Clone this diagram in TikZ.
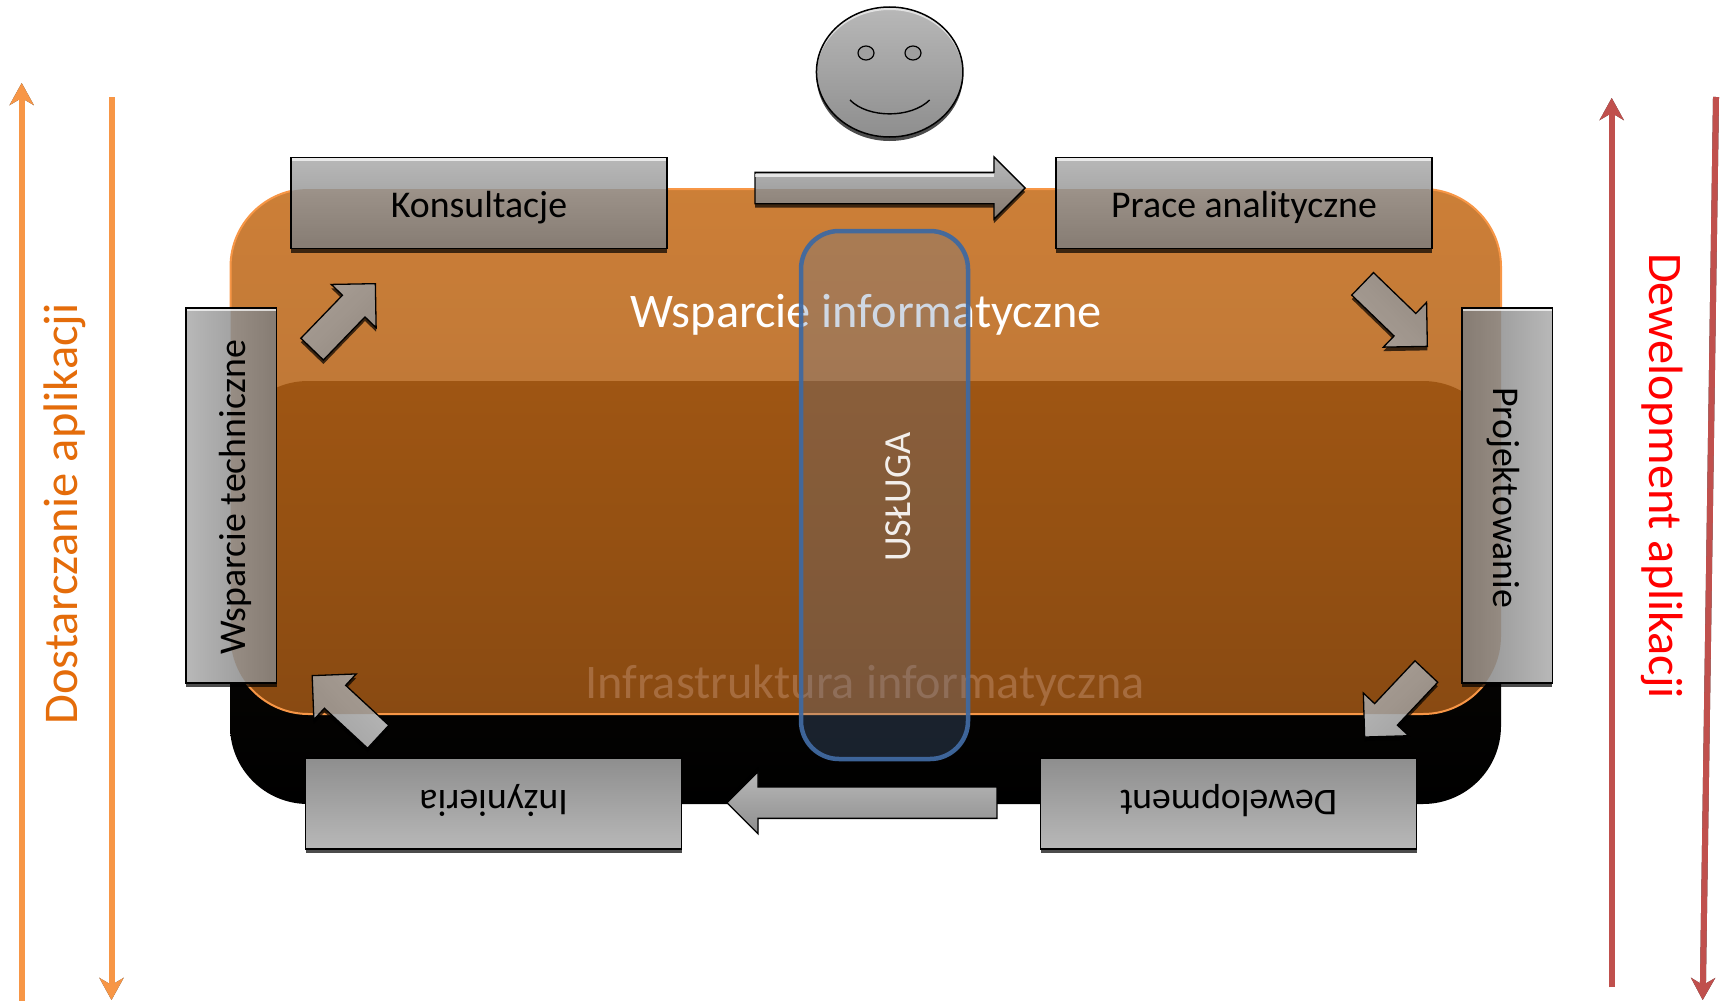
\documentclass[tikz,border=0pt]{standalone}
\usepackage{fontspec}
\usepackage{graphicx}
\setmainfont{Carlito}
\usetikzlibrary{shapes.geometric,shapes.arrows,shadows,arrows.meta}
\definecolor{boxlight}{HTML}{B8B8B8}
\definecolor{boxdark}{HTML}{8E8E8E}
\definecolor{diagdark}{HTML}{A2A2A2}
\definecolor{tintc}{RGB}{104,54,9}
\definecolor{orangeline}{HTML}{F79646}
\definecolor{redline}{HTML}{C0504D}
\definecolor{orangetop}{RGB}{196,106,22}
\definecolor{orangebot}{RGB}{160,86,21}
\definecolor{blacktop}{RGB}{16,12,6}
\definecolor{uslugafill}{RGB}{86,118,160}
\definecolor{uslugaline}{RGB}{64,105,160}
\definecolor{sidetxtL}{HTML}{E46C0A}
\definecolor{infratxt}{HTML}{A66C3E}
\newcommand{\tintrr}{\fill[tintc,fill opacity=.2,rounded corners=78pt] (oa) rectangle (ob);}
\newcommand{\tintpoly}{\fill[tintc,fill opacity=.2] (oa) -- (oc) -- (ob) -- (od) -- cycle;}
\newcommand{\fsz}[1]{\fontsize{#1}{#1}\selectfont}
\newcommand{\boxtxt}[2][14]{\raisebox{-#1pt}[0pt][0pt]{#2}}
\tikzset{
  x=1pt,y=-1pt,
  boxshadow/.style={drop shadow={shadow xshift=0pt,shadow yshift=-4pt,fill=black,opacity=.7}},
  graybox/.style={draw=black,line width=1.5pt,inner sep=0pt,text=black,font=\fsz{37.8},boxshadow,
    path picture={\tintrr}},
  glossbox/.style={graybox,path picture={\tintrr
    \fill[white,opacity=.7] (path picture bounding box.north west) rectangle ([yshift=-3pt]path picture bounding box.north east);}},
  hbox/.style={minimum width=376pt,minimum height=91pt},
  vbox/.style={minimum width=90.5pt,minimum height=375pt},
  blockarrow/.style={shape=single arrow,anchor=tip,single arrow tip angle=90,single arrow head extend=15.5pt,
    minimum width=61pt,inner xsep=0pt,inner ysep=15pt,draw=black,line width=1.3pt,
    rotate=#1,
    path picture={\tintpoly}},
  diagshadow/.style={drop shadow={shadow xshift=0pt,shadow yshift=-4pt,fill=black,opacity=.7}},
  sidearrow/.style={line width=6pt,-{Stealth[length=22pt,width=24pt,inset=7pt]}},
  arrowshadow/.style={color=black!75,shift={(0pt,3pt)}},
}
\begin{document}
\begin{tikzpicture}
\useasboundingbox (0,0) rectangle (1729,1001);
\coordinate (oa) at (230.5,189);
\coordinate (oc) at (1501,189);
\coordinate (ob) at (1501,714);
\coordinate (od) at (230.5,714);
\coordinate (ba) at (230,381);
\coordinate (bb) at (1501,804);

% side arrows
\coordinate (l1a) at (21.7,1001); \coordinate (l1b) at (21.7,83);
\coordinate (l2a) at (111.5,97); \coordinate (l2b) at (111.5,1000);
\coordinate (r1a) at (1611.7,987); \coordinate (r1b) at (1611.7,98);
\coordinate (r2a) at (1716,97); \coordinate (r2b) at (1702.7,1000);
\draw[sidearrow,arrowshadow] (l1a) -- (l1b);
\draw[sidearrow,arrowshadow] (l2a) -- (l2b);
\draw[sidearrow,arrowshadow] (r1a) -- (r1b);
\draw[sidearrow,arrowshadow] (r2a) -- (r2b);
\draw[sidearrow,orangeline] (l1a) -- (l1b);
\draw[sidearrow,orangeline] (l2a) -- (l2b);
\draw[sidearrow,redline] (r1a) -- (r1b);
\draw[sidearrow,redline] (r2a) -- (r2b);
\node[rotate=90,text=sidetxtL,font=\fsz{48.5}] (dost) at (65,514) {Dostarczanie aplikacji};
\node[rotate=-90,text=red,font=\fsz{48.2}] (dewapl) at (1662,476) {Dewelopment aplikacji};

% platforms
\path[top color=blacktop,bottom color=black,rounded corners=78pt] (ba) rectangle (bb);
\path[draw=orangeline,line width=2pt,top color=orangetop,bottom color=orangebot,fill opacity=.86,draw opacity=1,rounded corners=78pt] (oa) rectangle (ob);
\node[text=white,font=\fsz{48.3}] (wspinf) at (866,315) {Wsparcie informatyczne};
\node[text=infratxt,font=\fsz{48.3}] (infra) at (865,686) {Infrastruktura informatyczna};

% usluga
\node[draw=uslugaline,line width=4.5pt,fill=uslugafill,fill opacity=.28,draw opacity=.95,rounded corners=38pt,minimum width=167pt,minimum height=528pt,inner sep=0pt] (usluga) at (884.5,495) {};
\node[rotate=90,text=white,text opacity=.9,font=\fsz{38.3}] (uslugatxt) at (898,497) {USŁUGA};

% boxes
\node[glossbox,hbox,top color=boxlight,bottom color=boxdark] (kons) at (479,203) {\boxtxt{Konsultacje}};
\node[glossbox,hbox,top color=boxlight,bottom color=boxdark] (prace) at (1244,203) {\boxtxt{Prace analityczne}};
\node[glossbox,vbox,left color=boxlight,right color=boxdark] (wsp) at (231.25,495.5) {\rotatebox{90}{\boxtxt{Wsparcie techniczne\kern4pt}}};
\node[glossbox,vbox,left color=boxdark,right color=boxlight] (proj) at (1507,495.5) {\rotatebox{-90}{\boxtxt{\kern4pt Projektowanie}}};
\node[graybox,hbox,top color=boxdark,bottom color=boxlight] (inz) at (493.7,803.5) {\rotatebox{180}{\boxtxt[13]{Inżynieria}}};
\node[graybox,hbox,top color=boxdark,bottom color=boxlight] (dew) at (1228.5,803.5) {\rotatebox{180}{\boxtxt[13]{Dewelopment}}};

% block arrows
\node[blockarrow=0,minimum height=270pt,top color=boxlight,bottom color=boxdark,diagshadow] (a1) at (1026,188) {};
\fill[white,opacity=.7] ([shift={(1pt,14pt)}]a1.tail) rectangle ([shift={(240pt,11.5pt)}]a1.tail);
\node[blockarrow=180,minimum height=270pt,top color=boxlight,bottom color=boxdark,drop shadow={shadow xshift=0pt,shadow yshift=4pt,fill=black,opacity=.7}] (a4) at (726,802.7) {};
\node[blockarrow=-44,minimum height=90pt,top color=boxlight,bottom color=diagdark,shading angle=134,diagshadow] (a2) at (1428,347) {};
\node[blockarrow=-133.3,minimum height=90pt,top color=boxlight,bottom color=diagdark,shading angle=43.3,diagshadow] (a3) at (1364,737.7) {};
\node[blockarrow=137.2,minimum height=90pt,top color=boxlight,bottom color=diagdark,shading angle=-47.2,diagshadow] (a5) at (311.5,675) {};
\node[blockarrow=46,minimum height=91pt,top color=boxlight,bottom color=diagdark,shading angle=44,diagshadow] (a6) at (376,283) {};

% smiley
\node[shape=ellipse,draw=black,line width=1.5pt,minimum width=146.5pt,minimum height=130pt,inner sep=0pt,top color=boxlight,bottom color=boxdark,boxshadow,
  path picture={\fill[white,opacity=.6,even odd rule] (path picture bounding box.center) ellipse (73.25pt and 65pt) ([yshift=-3pt]path picture bounding box.center) ellipse (73.25pt and 65pt);}] (face) at (889.7,72) {};
\node[shape=ellipse,draw=black,line width=1.2pt,fill=boxdark!85!white,minimum width=16pt,minimum height=14pt,inner sep=0pt] (eyeL) at (866,53) {};
\node[shape=ellipse,draw=black,line width=1.2pt,fill=boxdark!85!white,minimum width=16pt,minimum height=14pt,inner sep=0pt] (eyeR) at (913,53) {};
\coordinate (smL) at (850,100); \coordinate (smR) at (929.6,100);
\coordinate (smc1) at (868,118.5); \coordinate (smc2) at (911,118.5);
\draw[line width=1.4pt,black] (smL) .. controls (smc1) and (smc2) .. (smR);
\end{tikzpicture}
\end{document}
